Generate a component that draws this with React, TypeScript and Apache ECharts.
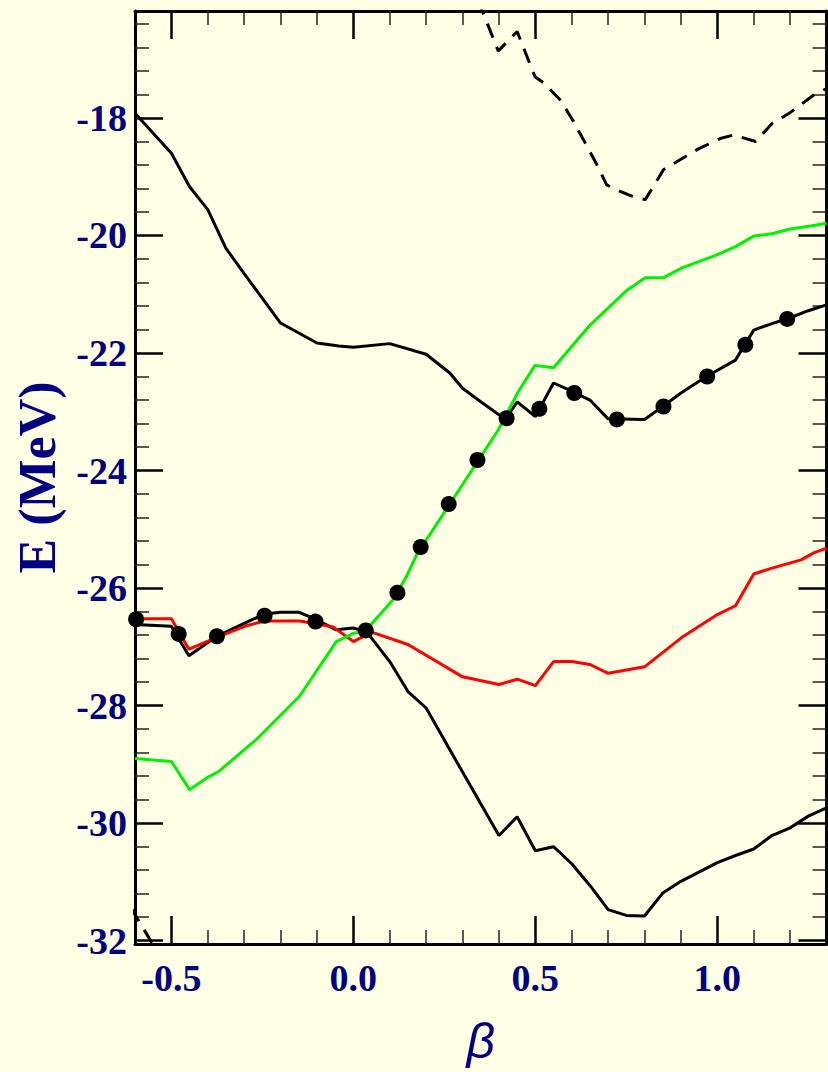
import React, { useEffect, useRef } from "react";
import * as echarts from "echarts";

// ---- axis ticks ----
const xMajorTicks = [-0.5, 0.0, 0.5, 1.0];
const xMinorTicks = [-0.4, -0.3, -0.2, -0.1, 0.1, 0.2, 0.3, 0.4, 0.6, 0.7, 0.8, 0.9, 1.1, 1.2];
const yMajorTicks = [-32, -30, -28, -26, -24, -22, -20, -18];
const yMinorTicks = [
  -31.6, -31.2, -30.8, -30.4, -29.6, -29.2, -28.8, -28.4, -27.6, -27.2, -26.8, -26.4,
  -25.6, -25.2, -24.8, -24.4, -23.6, -23.2, -22.8, -22.4, -21.6, -21.2, -20.8, -20.4,
  -19.6, -19.2, -18.8, -18.4, -17.6, -17.2, -16.8, -16.4,
];

// ---- series data ----
const upperBlackX = [-0.6, -0.5, -0.45, -0.4, -0.35, -0.3, -0.25, -0.2, -0.1, -0.04, 0.0, 0.1, 0.2, 0.265, 0.3, 0.35, 0.4, 0.42, 0.45, 0.5, 0.55, 0.6, 0.65, 0.7, 0.8, 0.85, 0.9, 0.97, 1.05, 1.1, 1.15, 1.2, 1.25, 1.3];
const upperBlackY = [-17.92, -18.6, -19.17, -19.56, -20.22, -20.65, -21.07, -21.49, -21.83, -21.88, -21.9, -21.84, -22.02, -22.34, -22.6, -22.83, -23.05, -23.11, -22.83, -23.08, -22.51, -22.65, -22.8, -23.12, -23.13, -22.91, -22.68, -22.4, -22.12, -21.61, -21.5, -21.4, -21.28, -21.18];

const lowerBlackX = [-0.6, -0.5, -0.452, -0.375, -0.3, -0.244, -0.2, -0.15, -0.104, -0.047, 0.0, 0.036, 0.1, 0.15, 0.2, 0.3, 0.4, 0.45, 0.5, 0.55, 0.6, 0.65, 0.7, 0.75, 0.8, 0.85, 0.9, 1.0, 1.05, 1.1, 1.15, 1.2, 1.25, 1.3];
const lowerBlackY = [-26.62, -26.65, -27.15, -26.82, -26.6, -26.44, -26.41, -26.41, -26.53, -26.71, -26.68, -26.74, -27.25, -27.76, -28.04, -29.13, -30.21, -29.89, -30.47, -30.4, -30.69, -31.06, -31.47, -31.57, -31.58, -31.19, -30.99, -30.67, -30.55, -30.44, -30.21, -30.08, -29.88, -29.74];

const redX = [-0.6, -0.5, -0.452, -0.375, -0.294, -0.244, -0.148, -0.056, 0.0, 0.05, 0.15, 0.3, 0.4, 0.45, 0.5, 0.55, 0.6, 0.65, 0.7, 0.8, 0.9, 1.0, 1.05, 1.1, 1.15, 1.23, 1.265, 1.3];
const redY = [-26.52, -26.52, -27.04, -26.84, -26.64, -26.56, -26.56, -26.66, -26.91, -26.75, -26.96, -27.51, -27.64, -27.55, -27.66, -27.25, -27.25, -27.3, -27.45, -27.34, -26.85, -26.45, -26.3, -25.76, -25.66, -25.52, -25.4, -25.32];

const greenX = [-0.6, -0.5, -0.45, -0.4, -0.37, -0.267, -0.148, -0.047, 0.0, 0.034, 0.109, 0.146, 0.174, 0.398, 0.453, 0.499, 0.55, 0.651, 0.752, 0.802, 0.851, 0.903, 0.999, 1.05, 1.1, 1.15, 1.2, 1.256, 1.3];
const greenY = [-28.9, -28.95, -29.43, -29.22, -29.12, -28.58, -27.84, -26.91, -26.77, -26.72, -26.2, -25.8, -25.43, -23.31, -22.66, -22.21, -22.25, -21.52, -20.93, -20.72, -20.72, -20.55, -20.33, -20.19, -20.01, -19.97, -19.89, -19.84, -19.79];

const dashedX = [0.343, 0.357, 0.398, 0.45, 0.499, 0.522, 0.568, 0.605, 0.667, 0.696, 0.733, 0.765, 0.802, 0.852, 0.944, 1.008, 1.045, 1.105, 1.151, 1.2, 1.265, 1.3];
const dashedY = [-16.0, -16.22, -16.86, -16.53, -17.3, -17.4, -17.69, -18.06, -18.77, -19.14, -19.25, -19.33, -19.39, -18.88, -18.54, -18.35, -18.29, -18.4, -18.09, -17.91, -17.61, -17.5];

const cornerX = [-0.61, -0.6, -0.545];
const cornerY = [-31.45, -31.56, -32.12];

const dotsX = [-0.597, -0.48, -0.375, -0.244, -0.104, 0.034, 0.121, 0.185, 0.262, 0.341, 0.421, 0.511, 0.607, 0.724, 0.852, 0.972, 1.077, 1.192];
const dotsY = [-26.53, -26.78, -26.82, -26.47, -26.57, -26.72, -26.08, -25.3, -24.57, -23.82, -23.11, -22.95, -22.68, -23.13, -22.91, -22.4, -21.86, -21.42];

const X_MIN = -0.6;
const X_MAX = 1.3;
const Y_MIN = -32.056;
const Y_MAX = -16.18;

const BG = "#FFFFE6";
const NAVY = "#000080";

const zip = (xs: number[], ys: number[]) => xs.map((x, i) => [x, ys[i]]);

function App() {
  const ref = useRef<HTMLDivElement>(null);

  useEffect(() => {
    if (!ref.current) return;
    const chart = echarts.init(ref.current, null, { renderer: "svg" });

    const labelStyle = {
      color: NAVY,
      fontFamily: "Liberation Serif",
      fontWeight: "bold" as const,
      fontSize: 38,
    };

    const xAxis = (position: "top" | "bottom", major: boolean, withLine: boolean, withLabels: boolean, extra: any = {}) => ({
      type: "value",
      position,
      min: X_MIN,
      max: X_MAX,
      splitLine: { show: false },
      axisLine: { show: withLine, onZero: false, lineStyle: { color: "#000", width: 3 } },
      axisTick: {
        show: true,
        inside: true,
        customValues: major ? xMajorTicks : xMinorTicks,
        length: major ? 28 : 14,
        lineStyle: { color: major ? "#000" : "#222", width: major ? 2.5 : 1.5 },
      },
      axisLabel: withLabels
        ? { show: true, customValues: xMajorTicks, margin: 15, formatter: (v: number) => v.toFixed(1), ...labelStyle }
        : { show: false },
      ...extra,
    });

    const yAxis = (position: "left" | "right", major: boolean, withLine: boolean, withLabels: boolean, extra: any = {}) => ({
      type: "value",
      position,
      min: Y_MIN,
      max: Y_MAX,
      splitLine: { show: false },
      axisLine: { show: withLine, onZero: false, lineStyle: { color: "#000", width: 3 } },
      axisTick: {
        show: true,
        inside: true,
        customValues: major ? yMajorTicks : yMinorTicks,
        length: major ? 28 : 14,
        lineStyle: { color: major ? "#000" : "#222", width: major ? 2.5 : 1.5 },
      },
      axisLabel: withLabels
        ? { show: true, customValues: yMajorTicks, margin: 8, formatter: (v: number) => String(v), ...labelStyle }
        : { show: false },
      ...extra,
    });

    const lineSeries = (name: string, xs: number[], ys: number[], color: string, dashed = false) => ({
      name,
      type: "line",
      data: zip(xs, ys),
      showSymbol: false,
      symbol: "none",
      clip: true,
      lineStyle: { color, width: 3, type: dashed ? [15, 10] : "solid" },
      z: 3,
    });

    chart.setOption({
      animation: false,
      backgroundColor: BG,
      grid: { left: 135, right: 1.5, top: 11, bottom: 128, containLabel: false },
      xAxis: [
        xAxis("bottom", true, true, true, {
          name: "β",
          nameLocation: "middle",
          nameGap: 72,
          nameTextStyle: { color: NAVY, fontFamily: "Liberation Sans", fontStyle: "italic", fontSize: 50 },
        }),
        xAxis("bottom", false, false, false),
        xAxis("top", true, true, false),
        xAxis("top", false, false, false),
      ],
      yAxis: [
        yAxis("left", true, true, true, {
          name: "E (MeV)",
          nameLocation: "middle",
          nameGap: 72,
          nameTextStyle: { color: NAVY, fontFamily: "Liberation Serif", fontWeight: "bold", fontSize: 52 },
        }),
        yAxis("left", false, false, false),
        yAxis("right", true, true, false),
        yAxis("right", false, false, false),
      ],
      series: [
        lineSeries("upper", upperBlackX, upperBlackY, "#000"),
        lineSeries("lower", lowerBlackX, lowerBlackY, "#000"),
        lineSeries("red", redX, redY, "#FF0000"),
        lineSeries("green", greenX, greenY, "#00F000"),
        lineSeries("dashed", dashedX, dashedY, "#000", true),
        lineSeries("corner", cornerX, cornerY, "#000", true),
        {
          name: "dots",
          type: "scatter",
          data: zip(dotsX, dotsY),
          symbol: "circle",
          symbolSize: 16,
          itemStyle: { color: "#000", opacity: 1 },
          z: 5,
        },
      ],
    });

    return () => chart.dispose();
  }, []);

  return (
    <div
      ref={ref}
      style={{ position: "absolute", left: 0, top: 0, width: 828, height: 1072, background: BG }}
    />
  );
}

export default App;
